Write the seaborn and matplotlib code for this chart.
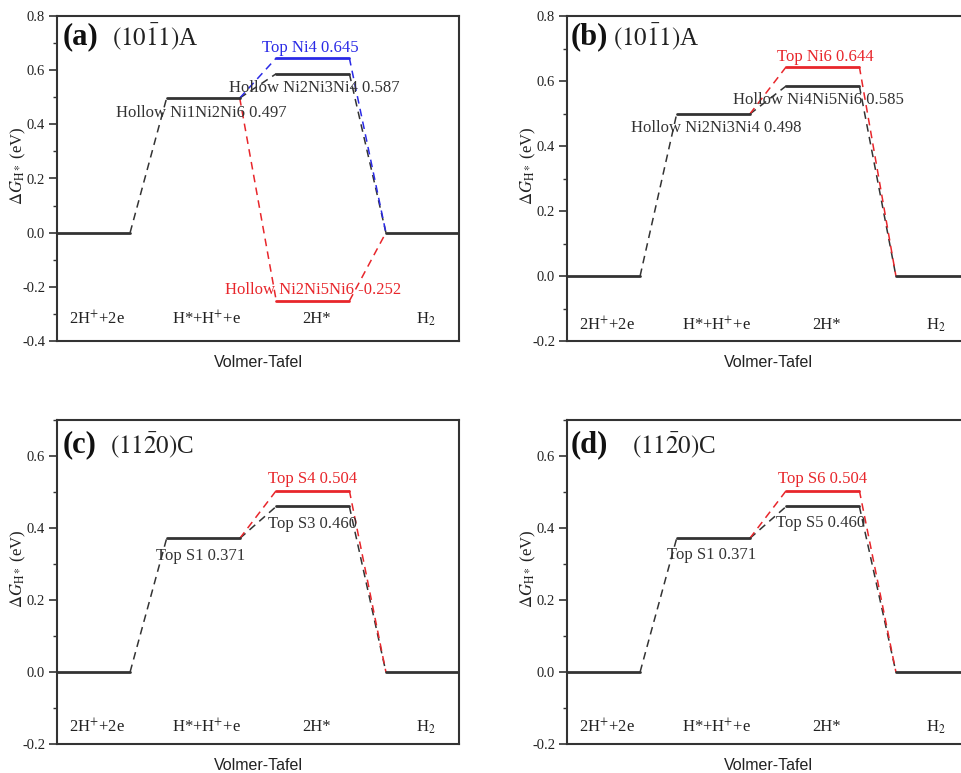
import matplotlib
matplotlib.use("Agg")
import matplotlib.pyplot as plt
import pandas as pd
import seaborn as sns

sns.set_theme(style="ticks")
plt.rcParams["font.family"] = ["Liberation Serif", "DejaVu Serif"]
plt.rcParams["mathtext.fontset"] = "stix"

# Reaction stages along the Volmer-Tafel pathway
stages = [r"2H$^{+}$+2e", r"H*+H$^{+}$+e", "2H*", r"H$_2$"]

# Free energies (eV) of the main (black) pathway for each panel
main_a = [0.0, 0.497, 0.587, 0.0]
main_b = [0.0, 0.498, 0.585, 0.0]
main_c = [0.0, 0.371, 0.460, 0.0]
main_d = [0.0, 0.371, 0.460, 0.0]

# Site names of the main pathway (stage H*+H+e, stage 2H*)
sites_a = ["Hollow Ni1Ni2Ni6", "Hollow Ni2Ni3Ni4"]
sites_b = ["Hollow Ni2Ni3Ni4", "Hollow Ni4Ni5Ni6"]
sites_c = ["Top S1", "Top S3"]
sites_d = ["Top S1", "Top S5"]

# Alternative 2H* sites: (name, energy, colour key)
alt_a = [("Top Ni4", 0.645, "blue"), ("Hollow Ni2Ni5Ni6", -0.252, "red")]
alt_b = [("Top Ni6", 0.644, "red")]
alt_c = [("Top S4", 0.504, "red")]
alt_d = [("Top S6", 0.504, "red")]

facets = ["(a)", "(b)", "(c)", "(d)"]
surfaces = [r"$(10\bar{1}1)$A", r"$(10\bar{1}1)$A", r"$(11\bar{2}0)$C", r"$(11\bar{2}0)$C"]
ylims = [(-0.4, 0.8), (-0.2, 0.8), (-0.2, 0.7), (-0.2, 0.7)]

palette = {"black": "#333333", "blue": "#2a2ae6", "red": "#e8262b"}
spine_col = "#333333"

W, H = 961, 773
fig = plt.figure(figsize=(W / 100, H / 100), dpi=100)

# axes boxes in pixels: left, top, width, height
boxes = [(57, 16, 402, 325), (567, 16, 402, 325),
         (57, 420, 402, 324), (567, 420, 402, 324)]

# label placement per panel: (dx in data units, dy in points) for
# [main stage 1, main stage 2, alt ...]
label_offsets = [
    [(-0.05, -11), (0.05, -10), (-0.07, 7), (0.0, 8)],
    [(0.08, -10), (-0.12, -10), (0.07, 7)],
    [(-0.07, -13), (0.0, -13), (0.0, 8)],
    [(-0.05, -12), (-0.07, -12), (0.0, 8)],
]
title_x = [(0.015, 0.137), (0.008, 0.114), (0.015, 0.132), (0.010, 0.162)]
title_y = [0.937, 0.937, 0.923, 0.923]
stage_y = [-0.32, -0.152, -0.153, -0.153]

panels = [(main_a, sites_a, alt_a), (main_b, sites_b, alt_b),
          (main_c, sites_c, alt_c), (main_d, sites_d, alt_d)]


def stage_x(i):
    return 3 * i, 3 * i + 2


for k, (main, sites, alts) in enumerate(panels):
    l, t, w, h = boxes[k]
    ax = fig.add_axes([l / W, 1 - (t + h) / H, w / W, h / H])

    levels, links = [], []
    seg = 0
    # main pathway
    for i, v in enumerate(main):
        x0, x1 = stage_x(i)
        levels += [dict(x=x0, y=v, seg=seg, c="black"), dict(x=x1, y=v, seg=seg, c="black")]
        seg += 1
        if i > 0:
            px = stage_x(i - 1)[1]
            links += [dict(x=px, y=main[i - 1], seg=seg, c="black"),
                      dict(x=x0, y=v, seg=seg, c="black")]
            seg += 1
    # alternative 2H* sites
    for name, v, c in alts:
        x0, x1 = stage_x(2)
        levels += [dict(x=x0, y=v, seg=seg, c=c), dict(x=x1, y=v, seg=seg, c=c)]
        seg += 1
        links += [dict(x=stage_x(1)[1], y=main[1], seg=seg, c=c), dict(x=x0, y=v, seg=seg, c=c)]
        seg += 1
        links += [dict(x=x1, y=v, seg=seg, c=c), dict(x=stage_x(3)[0], y=main[3], seg=seg, c=c)]
        seg += 1

    links_df = pd.DataFrame(links)
    levels_df = pd.DataFrame(levels)
    sns.lineplot(data=links_df, x="x", y="y", units="seg", hue="c", palette=palette,
                 estimator=None, sort=False, lw=1.1, linestyle=(0, (5, 3.5)),
                 legend=False, ax=ax)
    sns.lineplot(data=levels_df, x="x", y="y", units="seg", hue="c", palette=palette,
                 estimator=None, sort=False, lw=2.0, legend=False, ax=ax)

    # energy labels
    offs = label_offsets[k]
    entries = [(1, main[1], sites[0], "black"), (2, main[2], sites[1], "black")]
    entries += [(2, v, name, c) for name, v, c in alts]
    for (stage, v, name, c), (dx, dy) in zip(entries, offs):
        xc = sum(stage_x(stage)) / 2 + dx
        ax.annotate(f"{name} {v:.3f}", xy=(xc, v), xytext=(0, dy),
                    textcoords="offset points", ha="center", va="center",
                    fontsize=12, color=palette[c])

    # stage names
    for i, s in enumerate(stages):
        xc = sum(stage_x(i)) / 2 + 0.1
        ax.text(xc, stage_y[k], s, ha="center", va="center", fontsize=12, color="#222222")

    # panel titles
    ax.text(title_x[k][0], title_y[k], facets[k], transform=ax.transAxes,
            fontsize=22, fontweight="bold", ha="left", va="center", color="#111111")
    ax.text(title_x[k][1], title_y[k], surfaces[k], transform=ax.transAxes,
            fontsize=18, ha="left", va="center", color="#222222")

    ax.set_xlim(0, 11)
    ax.set_ylim(*ylims[k])
    ax.set_xticks([])
    lo, hi = ylims[k]
    ax.set_yticks([round(lo + 0.2 * j, 1) for j in range(int(round((hi - lo) / 0.2)) + 1)])
    ax.set_yticks([round(lo + 0.1 * j, 1) for j in range(int(round((hi - lo) / 0.1)) + 1)],
                  minor=True)
    ax.yaxis.set_major_formatter(matplotlib.ticker.FormatStrFormatter("%.1f"))
    ax.tick_params(axis="y", which="major", length=5.5, width=1.2, direction="out",
                   labelsize=10.5, pad=3, color=spine_col, labelcolor="#222222")
    ax.tick_params(axis="y", which="minor", length=3, width=1.0, direction="out",
                   color=spine_col)
    for sp in ax.spines.values():
        sp.set_visible(True)
        sp.set_color(spine_col)
        sp.set_linewidth(1.5)

    ax.set_xlabel("Volmer-Tafel", fontsize=11.5, family=["Liberation Sans", "DejaVu Sans"],
                  labelpad=10, color="#222222")
    ax.set_ylabel(r"$\Delta G_{\mathrm{H*}}$ (eV)", fontsize=12, color="#222222")
    ax.yaxis.set_label_coords(-0.072, 0.54)

fig.savefig("out.png", dpi=100)
